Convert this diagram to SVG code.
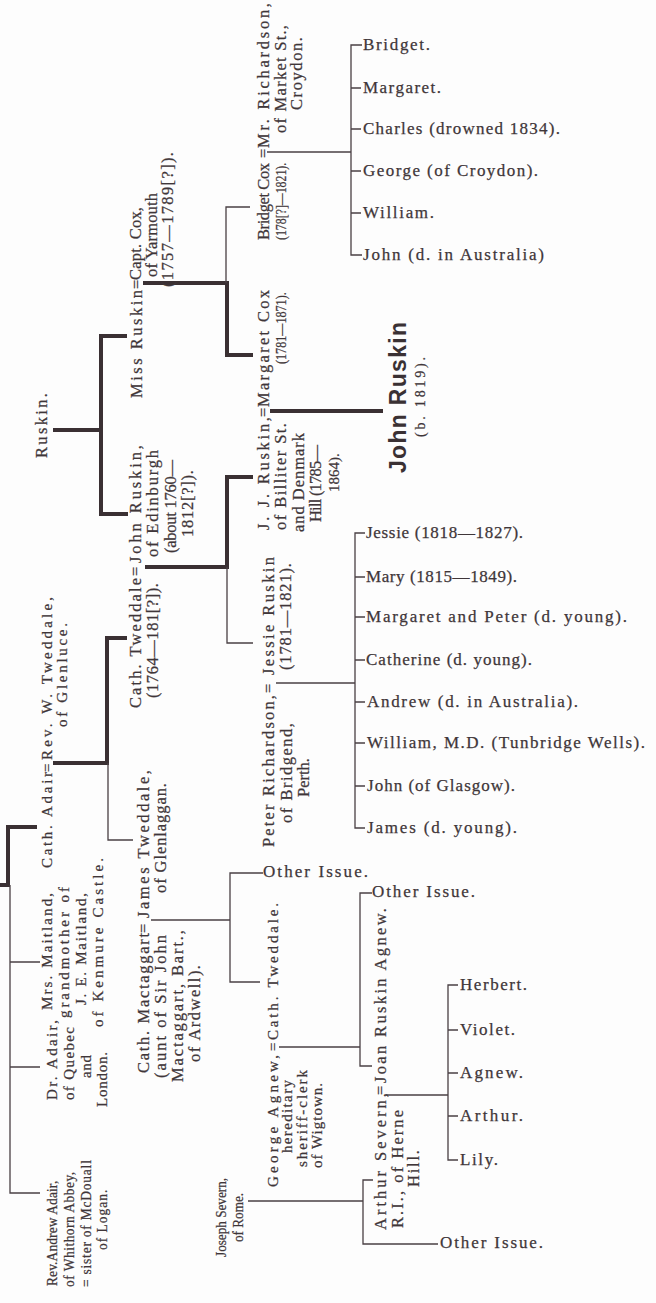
<svg xmlns="http://www.w3.org/2000/svg" width="656" height="1303" viewBox="0 0 656 1303">
<style>
text{font-family:"Liberation Serif","Times New Roman",serif;fill:#3f3639;stroke:#3f3639;stroke-width:0.25;}
.r{font-size:16.5px;}
.g{font-size:15px;}
.s{font-size:15px;}
.d{font-size:15px;}
.h{font-size:17px;}
.b{font-family:"Liberation Sans",Arial,sans-serif;font-weight:bold;font-size:23px;fill:#3a3134;stroke:none;}
.sm{font-size:14px;}
.thin{fill:none;stroke:#4a4044;stroke-width:1.3;}
.thick{fill:none;stroke:#3a3033;stroke-width:4;}
</style>
<rect width="656" height="1303" fill="#fdfdfd"/>
<g id="connectors">
<path class="thick" d="M53,430H101 M127,336H101V514H128"/>
<path class="thick" d="M143,283H227V355H253"/>
<path class="thick" d="M270,411H383"/>
<path class="thick" d="M145,567H227V477H253"/>
<path class="thick" d="M53,763H107V638H127"/>
<path class="thick" d="M0,885H8V827H37"/>
<path class="thin" d="M226,283V207H250"/>
<path class="thin" d="M267,152H351 M362,45H351V255H362 M351,88H361 M351,129H361 M351,171H361 M351,213H361"/>
<path class="thin" d="M227,567V643H253"/>
<path class="thin" d="M276,683H355 M365,533H355V828H365 M355,577H365 M355,617H365 M355,660H365 M355,702H365 M355,743H365 M355,786H365"/>
<path class="thin" d="M108,763V840H133"/>
<path class="thin" d="M10,885V1193H40 M10,962H40 M10,1067H40"/>
<path class="thin" d="M151,920H230 M263,873H230V982H260"/>
<path class="thin" d="M279,1047H360 M372,893H360V1066H372"/>
<path class="thin" d="M386,1095H448 M458,985H448V1160H458 M448,1030H458 M448,1073H458 M448,1116H458"/>
<path class="thin" d="M248,1201H363 M373,1180H363V1244H438"/>
</g>
<g id="ruskin-root"><text class="r" transform="translate(47,458) rotate(-90)" textLength="65">Ruskin.</text></g>
<g id="miss-ruskin"><text class="r" transform="translate(142,398) rotate(-90)" textLength="108">Miss Ruskin</text>
<text class="r" transform="translate(142,289) rotate(-90)">=</text></g>
<g id="capt-cox">
<text class="r" transform="translate(141,280) rotate(-90)" textLength="73">Capt. Cox,</text>
<text class="r" transform="translate(157,277) rotate(-90)" textLength="84">of Yarmouth</text>
<text class="r" transform="translate(173,287) rotate(-90)" textLength="135">(1757—1789[?]).</text></g>
<g id="bridget-cox">
<text class="r" transform="translate(269,240) rotate(-90)" textLength="77">Bridget Cox</text>
<text class="d" transform="translate(286,240) rotate(-90) scale(0.79,1)">(178[?]—1821).</text>
<text class="r" transform="translate(269,158) rotate(-90)">=</text></g>
<g id="mr-richardson">
<text class="r" transform="translate(269,148) rotate(-90)" textLength="145">Mr. Richardson,</text>
<text class="r" transform="translate(286,133) rotate(-90)" textLength="108">of Market St.,</text>
<text class="r" transform="translate(302,110) rotate(-90)" textLength="73">Croydon.</text></g>
<g id="bridget-children">
<text class="h" x="363" y="50" textLength="67">Bridget.</text>
<text class="h" x="363" y="93" textLength="78">Margaret.</text>
<text class="h" x="363" y="134" textLength="197">Charles (drowned 1834).</text>
<text class="h" x="363" y="176" textLength="175">George (of Croydon).</text>
<text class="h" x="363" y="218" textLength="71">William.</text>
<text class="h" x="363" y="260" textLength="181">John (d. in Australia)</text></g>
<g id="margaret-cox">
<text class="r" transform="translate(268.5,407) rotate(-90)" textLength="117">Margaret Cox</text>
<text class="d" transform="translate(286,364) rotate(-90) scale(0.81,1)">(1781—1871).</text>
<text class="r" transform="translate(268.5,417) rotate(-90)">=</text></g>
<g id="jj-ruskin">
<text class="r" transform="translate(268.5,530) rotate(-90)" textLength="113">J. J. Ruskin,</text>
<text class="r" transform="translate(286,530) rotate(-90)" textLength="107">of Billiter St.</text>
<text class="r" transform="translate(303.5,532) rotate(-90)" textLength="99">and Denmark</text>
<text class="r" transform="translate(321,522) rotate(-90)" textLength="77">Hill (1785—</text>
<text class="g" transform="translate(338.5,492) rotate(-90)">1864).</text></g>
<g id="john-ruskin">
<text class="b" transform="translate(406,473) rotate(-90)" textLength="151">John Ruskin</text>
<text class="sm" transform="translate(425,437) rotate(-90)" textLength="80">(b. 1819).</text></g>
<g id="john-ruskin-edinburgh">
<text class="r" transform="translate(141,563) rotate(-90)" textLength="118">John Ruskin,</text>
<text class="r" transform="translate(158,557) rotate(-90)" textLength="107">of Edinburgh</text>
<text class="r" transform="translate(175.5,553) rotate(-90)" textLength="93">(about 1760—</text>
<text class="r" transform="translate(193,537) rotate(-90)" textLength="67">1812[?]).</text>
<text class="r" transform="translate(141,576) rotate(-90)">=</text></g>
<g id="cath-tweddale-1">
<text class="r" transform="translate(141,708) rotate(-90)" textLength="130">Cath. Tweddale</text>
<text class="r" transform="translate(158,698) rotate(-90)" textLength="115">(1764—181[?]).</text></g>
<g id="peter-richardson">
<text class="r" transform="translate(274,847) rotate(-90)" textLength="152">Peter Richardson,</text>
<text class="r" transform="translate(291.5,823) rotate(-90)" textLength="100">of Bridgend,</text>
<text class="r" transform="translate(309,797) rotate(-90)" textLength="39">Perth.</text>
<text class="r" transform="translate(274,693) rotate(-90)">=</text></g>
<g id="jessie-ruskin">
<text class="r" transform="translate(274,675) rotate(-90)" textLength="118">Jessie Ruskin</text>
<text class="r" transform="translate(291,670) rotate(-90)" textLength="107">(1781—1821).</text></g>
<g id="jessie-children">
<text class="h" x="366" y="538" textLength="157">Jessie (1818—1827).</text>
<text class="h" x="366" y="582" textLength="151">Mary (1815—1849).</text>
<text class="h" x="366" y="622" textLength="261">Margaret and Peter (d. young).</text>
<text class="h" x="366" y="665" textLength="166">Catherine (d. young).</text>
<text class="h" x="367" y="707" textLength="211">Andrew (d. in Australia).</text>
<text class="h" x="367" y="748" textLength="278">William, M.D. (Tunbridge Wells).</text>
<text class="h" x="367" y="791" textLength="148">John (of Glasgow).</text>
<text class="h" x="367" y="833" textLength="150">James (d. young).</text></g>
<g id="cath-adair">
<text class="s" transform="translate(52,868) rotate(-90)" textLength="96">Cath. Adair</text>
<text class="s" transform="translate(52,772) rotate(-90)">=</text></g>
<g id="rev-w-tweddale">
<text class="s" transform="translate(52,760) rotate(-90)" textLength="163">Rev. W. Tweddale,</text>
<text class="s" transform="translate(67,727) rotate(-90)" textLength="104">of Glenluce.</text></g>
<g id="mrs-maitland">
<text class="s" transform="translate(52,1010) rotate(-90)" textLength="117">Mrs. Maitland,</text>
<text class="s" transform="translate(69,1018) rotate(-90)" textLength="131">grandmother of</text>
<text class="s" transform="translate(86,1005) rotate(-90)" textLength="112">J. E. Maitland,</text>
<text class="s" transform="translate(103,1027) rotate(-90)" textLength="169">of Kenmure Castle.</text></g>
<g id="dr-adair">
<text class="s" transform="translate(57,1100) rotate(-90)" textLength="80">Dr. Adair,</text>
<text class="s" transform="translate(74,1100) rotate(-90)" textLength="73">of Quebec</text>
<text class="s" transform="translate(91,1078) rotate(-90)" textLength="23">and</text>
<text class="s" transform="translate(107,1107) rotate(-90)" textLength="55">London.</text></g>
<g id="rev-andrew-adair">
<text class="s" transform="translate(57,1286) rotate(-90) scale(0.9,1)" textLength="117">Rev.Andrew Adair,</text>
<text class="s" transform="translate(74,1287) rotate(-90) scale(0.9,1)" textLength="128">of Whithorn Abbey,</text>
<text class="s" transform="translate(91,1287) rotate(-90) scale(0.9,1)" textLength="141">= sister of McDouall</text>
<text class="s" transform="translate(107,1250) rotate(-90) scale(0.9,1)" textLength="67">of Logan.</text></g>
<g id="cath-mactaggart">
<text class="r" transform="translate(149,1073) rotate(-90)" textLength="140">Cath. Mactaggart</text>
<text class="r" transform="translate(166,1078) rotate(-90)" textLength="143">(aunt of Sir John</text>
<text class="r" transform="translate(183,1082) rotate(-90)" textLength="152">Mactaggart, Bart.,</text>
<text class="r" transform="translate(200,1062) rotate(-90)" textLength="97">of Ardwell).</text>
<text class="r" transform="translate(149,933) rotate(-90)">=</text></g>
<g id="james-tweddale">
<text class="r" transform="translate(149,918) rotate(-90)" textLength="148">James Tweddale,</text>
<text class="r" transform="translate(166,893) rotate(-90)" textLength="110">of Glenlaggan.</text></g>
<g id="other-issue-1"><text class="h" x="263" y="877" textLength="105">Other Issue.</text></g>
<g id="cath-tweddale-2">
<text class="g" transform="translate(278,1040) rotate(-90)" textLength="137">Cath. Tweddale.</text>
<text class="g" transform="translate(278,1051) rotate(-90)">=</text></g>
<g id="george-agnew">
<text class="g" transform="translate(278,1187) rotate(-90)" textLength="132">George Agnew,</text>
<text class="g" transform="translate(292,1153) rotate(-90)" textLength="73">hereditary</text>
<text class="g" transform="translate(307,1167) rotate(-90)" textLength="97">sheriff-clerk</text>
<text class="g" transform="translate(322,1168) rotate(-90)" textLength="85">of Wigtown.</text></g>
<g id="other-issue-2"><text class="h" x="372" y="897" textLength="103">Other Issue.</text></g>
<g id="joseph-severn">
<text class="s" transform="translate(226,1257) rotate(-90) scale(0.88,1)">Joseph Severn,</text>
<text class="s" transform="translate(243,1242) rotate(-90) scale(0.88,1)">of Rome.</text></g>
<g id="joan-ruskin-agnew">
<text class="r" transform="translate(386,1083) rotate(-90)" textLength="175">Joan Ruskin Agnew.</text>
<text class="r" transform="translate(386,1095) rotate(-90)">=</text></g>
<g id="arthur-severn">
<text class="r" transform="translate(386,1230) rotate(-90)" textLength="137">Arthur Severn,</text>
<text class="r" transform="translate(403,1228) rotate(-90)" textLength="118">R.I., of Herne</text>
<text class="r" transform="translate(419,1187) rotate(-90)" textLength="37">Hill.</text></g>
<g id="severn-children">
<text class="h" x="460" y="990" textLength="67">Herbert.</text>
<text class="h" x="460" y="1035" textLength="55">Violet.</text>
<text class="h" x="460" y="1078" textLength="63">Agnew.</text>
<text class="h" x="460" y="1121" textLength="63">Arthur.</text>
<text class="h" x="460" y="1165" textLength="38">Lily.</text></g>
<g id="other-issue-3"><text class="h" x="440" y="1248" textLength="103">Other Issue.</text></g>
</svg>
